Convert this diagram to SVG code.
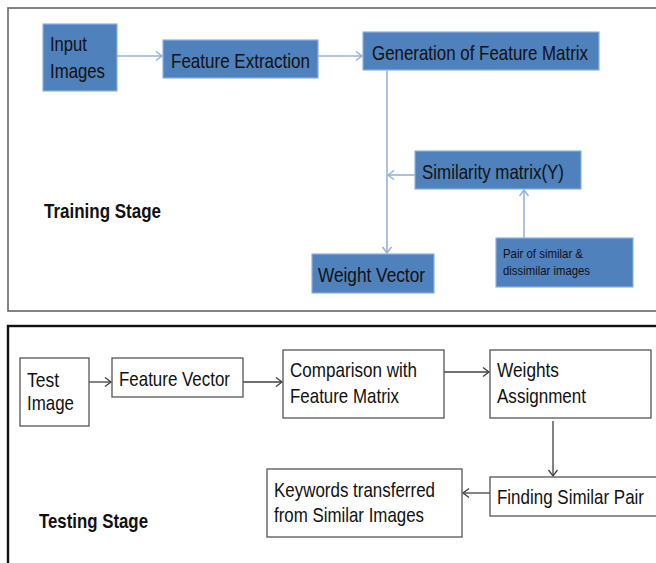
<svg xmlns="http://www.w3.org/2000/svg" width="656" height="563" viewBox="0 0 656 563">
<style>
  .blue { fill:#4F81BD; stroke:#8DB0E0; stroke-width:1.2; }
  .white { fill:#FFFFFF; stroke:#555555; stroke-width:1.3; }
  .t { font-family:"Liberation Sans", Arial, sans-serif; font-size:21px; fill:#111111; }
  .s { font-family:"Liberation Sans", Arial, sans-serif; font-size:13px; fill:#111111; }
  .b { font-family:"Liberation Sans", Arial, sans-serif; font-size:21px; font-weight:bold; fill:#111111; }
  .cb { fill:none; stroke:#95B3D7; stroke-width:1.6; }
  .cg { fill:none; stroke:#404040; stroke-width:1.3; }
</style>
<defs>
  <marker id="ab" markerUnits="userSpaceOnUse" markerWidth="10" markerHeight="12" refX="7" refY="5" orient="auto">
    <path d="M1,0.5 L7,5 L1,9.5" fill="none" stroke="#95B3D7" stroke-width="1.5"/>
  </marker>
  <marker id="ag" markerUnits="userSpaceOnUse" markerWidth="10" markerHeight="12" refX="7" refY="5" orient="auto">
    <path d="M1,0.5 L7,5 L1,9.5" fill="none" stroke="#404040" stroke-width="1.3"/>
  </marker>
</defs>
<rect width="656" height="563" fill="#FFFFFF"/>

<!-- frames -->
<rect id="training-frame" x="8" y="8" width="700" height="303" fill="none" stroke="#666666" stroke-width="1.6"/>
<rect id="testing-frame" x="8" y="326" width="700" height="300" fill="none" stroke="#111111" stroke-width="2.4"/>

<g id="connectors">
  <line class="cb" x1="117" y1="56" x2="162" y2="56" marker-end="url(#ab)"/>
  <line class="cb" x1="318" y1="56" x2="362" y2="56" marker-end="url(#ab)"/>
  <line class="cb" x1="387" y1="71" x2="387" y2="253" marker-end="url(#ab)"/>
  <line class="cb" x1="415" y1="175" x2="388" y2="175" marker-end="url(#ab)"/>
  <line class="cb" x1="524" y1="238" x2="524" y2="190" marker-end="url(#ab)"/>
  <line class="cg" x1="89" y1="382" x2="111" y2="382" marker-end="url(#ag)"/>
  <line class="cg" x1="243" y1="382" x2="282" y2="382" marker-end="url(#ag)"/>
  <line class="cg" x1="444" y1="372" x2="489" y2="372" marker-end="url(#ag)"/>
  <line class="cg" x1="553" y1="421" x2="553" y2="476" marker-end="url(#ag)"/>
  <line class="cg" x1="490" y1="493" x2="463" y2="493" marker-end="url(#ag)"/>
</g>

<g id="input-images">
  <rect class="blue" x="43" y="24" width="74" height="67"/>
  <text class="t" x="50" y="51" textLength="37" lengthAdjust="spacingAndGlyphs">Input</text>
  <text class="t" x="50" y="78" textLength="55" lengthAdjust="spacingAndGlyphs">Images</text>
</g>
<g id="feature-extraction">
  <rect class="blue" x="163" y="40" width="155" height="38"/>
  <text class="t" x="171" y="68" textLength="139" lengthAdjust="spacingAndGlyphs">Feature Extraction</text>
</g>
<g id="generation-feature-matrix">
  <rect class="blue" x="363" y="32" width="236" height="38"/>
  <text class="t" x="372" y="60" textLength="216" lengthAdjust="spacingAndGlyphs">Generation of Feature Matrix</text>
</g>
<g id="similarity-matrix">
  <rect class="blue" x="415" y="151" width="166" height="38"/>
  <text class="t" x="422" y="179" textLength="142" lengthAdjust="spacingAndGlyphs">Similarity matrix(Y)</text>
</g>
<g id="pair-images">
  <rect class="blue" x="496" y="238" width="137" height="49"/>
  <text class="s" x="503" y="258" textLength="80" lengthAdjust="spacingAndGlyphs">Pair of similar &amp;</text>
  <text class="s" x="503" y="275" textLength="87" lengthAdjust="spacingAndGlyphs">dissimilar images</text>
</g>
<g id="weight-vector">
  <rect class="blue" x="312" y="254" width="122" height="39"/>
  <text class="t" x="318" y="282" textLength="107" lengthAdjust="spacingAndGlyphs">Weight Vector</text>
</g>
<g id="training-stage">
  <text class="b" x="44" y="218" textLength="117" lengthAdjust="spacingAndGlyphs">Training Stage</text>
</g>

<g id="test-image">
  <rect class="white" x="20" y="358" width="69" height="68"/>
  <text class="t" x="27" y="387" textLength="32" lengthAdjust="spacingAndGlyphs">Test</text>
  <text class="t" x="27" y="410" textLength="47" lengthAdjust="spacingAndGlyphs">Image</text>
</g>
<g id="feature-vector">
  <rect class="white" x="112" y="358" width="131" height="39"/>
  <text class="t" x="119" y="386" textLength="111" lengthAdjust="spacingAndGlyphs">Feature Vector</text>
</g>
<g id="comparison">
  <rect class="white" x="283" y="350" width="161" height="68"/>
  <text class="t" x="290" y="377" textLength="127" lengthAdjust="spacingAndGlyphs">Comparison with</text>
  <text class="t" x="290" y="403" textLength="109" lengthAdjust="spacingAndGlyphs">Feature Matrix</text>
</g>
<g id="weights-assignment">
  <rect class="white" x="490" y="350" width="161" height="68"/>
  <text class="t" x="497" y="377" textLength="62" lengthAdjust="spacingAndGlyphs">Weights</text>
  <text class="t" x="497" y="403" textLength="89" lengthAdjust="spacingAndGlyphs">Assignment</text>
</g>
<g id="finding-similar-pair">
  <rect class="white" x="490" y="477" width="180" height="39"/>
  <text class="t" x="497" y="504" textLength="147" lengthAdjust="spacingAndGlyphs">Finding Similar Pair</text>
</g>
<g id="keywords-transferred">
  <rect class="white" x="267" y="469" width="195" height="68"/>
  <text class="t" x="274" y="497" textLength="161" lengthAdjust="spacingAndGlyphs">Keywords transferred</text>
  <text class="t" x="274" y="522" textLength="150" lengthAdjust="spacingAndGlyphs">from Similar Images</text>
</g>
<g id="testing-stage">
  <text class="b" x="39" y="528" textLength="109" lengthAdjust="spacingAndGlyphs">Testing Stage</text>
</g>
</svg>
